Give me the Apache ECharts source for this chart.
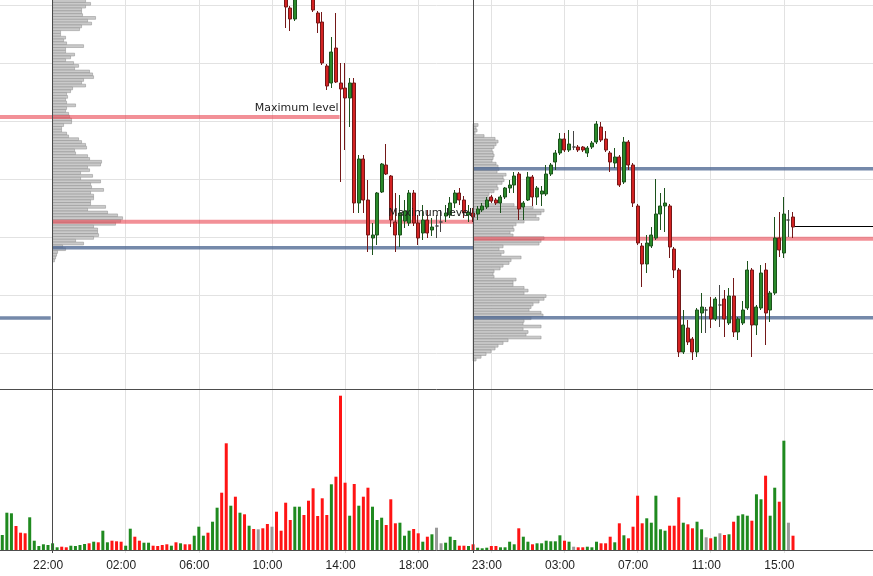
<!DOCTYPE html>
<html>
<head>
<meta charset="utf-8">
<script src="https://cdn.jsdelivr.net/npm/echarts@6/dist/echarts.min.js"></script>
<style>
html,body{margin:0;padding:0;background:#fff;}
#chart{width:873px;height:576px;}
</style>
</head>
<body>
<div id="chart"></div>
<script>
// ---------- time slots (15-minute bars) ----------
const sessionDefs = [
  { key: 'S0', startHour: 18, startMin: 15, bars: 11 },
  { key: 'S1', startHour: 22, startMin: 0, bars: 92 },
  { key: 'S2', startHour: 22, startMin: 0, bars: 88 }
];
const categories = [];
sessionDefs.forEach(function (s) {
  for (let i = 0; i < s.bars; i++) {
    const m = (s.startHour * 60 + s.startMin + i * 15) % 1440;
    categories.push(s.key + ' ' + String(Math.floor(m / 60)).padStart(2, '0') + ':' + String(m % 60).padStart(2, '0'));
  }
});
const tickLabels = ['S1 22:00', 'S1 02:00', 'S1 06:00', 'S1 10:00', 'S1 14:00', 'S1 18:00',
                    'S2 23:00', 'S2 03:00', 'S2 07:00', 'S2 11:00', 'S2 15:00'];
const sessionBreaks = ['S1 22:00', 'S2 22:00'];

// ---------- candles: [open, close, low, high] ----------
const candles = [
[436,441,434,443],[441,446,439,448],[446,452,444,455],[452,448,446,454],[448,445,443,450],
[445,442,440,447],[442,448,441,450],[448,450,447,452],[450,451,449,452],[451,452,450,453],
[452,453,451,454],[453,454,452,455],[454,455,453,456],[455,454,453,456],[454,453,452,455],
[453,454,452,455],[454,455,453,456],[455,456,454,457],[456,457,455,458],[457,455,454,458],
[455,457,454,458],[457,455,454,458],[455,460,454,461],[460,461,459,462],[461,459,458,462],
[459,457,456,460],[457,455,454,458],[455,456,454,457],[456,461,455,462],[461,458,457,462],
[458,456,455,459],[456,458,455,459],[458,459,457,460],[459,458,457,460],[458,457,456,459],
[457,456,455,458],[456,455,454,457],[455,456,454,457],[456,454,453,457],[454,456,453,457],
[456,454,453,457],[454,453,452,455],[453,456,452,457],[456,460,455,461],[460,462,458,463],
[462,458,457,463],[458,461,457,462],[461,462,456,463],[462,452,450,463],[452,436,432,454],
[436,444,434,446],[444,434,431,446],[434,440,432,442],[440,433,431,441],[433,437,431,439],
[437,433,431,438],[433,433,430,436],[433,430,428,435],[430,427,425,432],[427,427,424,430],
[427,422,420,429],[422,419,417,424],[419,404,383,421],[403,392,380,405],[392,420,390,428],
[420,432,418,436],[432,426,423,435],[426,418,415,429],[418,401,399,424],[398,388,378,400],
[389,348,346,399],[345,325,321,347],[328,359,323,374],[363,329,328,398],[328,322,229,348],
[323,313,261,348],[313,328,284,333],[328,208,198,333],[208,252,198,256],[252,211,198,256],
[211,176,159,231],[173,176,156,188],[176,218,166,219],[219,247,218,248],[246,237,236,267],
[235,191,184,236],[189,176,159,218],[176,198,164,216],[190,200,183,211],[188,218,185,221],
[218,188,185,221],[188,173,166,196],[178,191,171,206],[191,178,173,201],[181,184,175,193],
[185,185,173,196],[189,189,179,201],[195,198,189,206],[196,208,193,214],[208,218,203,221],
[218,211,206,223],[211,198,193,215],[196,199,189,206],[198,194,189,203],[197,202,191,205],
[201,205,199,208],[204,211,202,214],[214,210,208,216],[211,208,206,213],[208,214,198,216],
[214,223,212,224],[223,226,218,231],[226,235,218,239],[237,202,191,239],[204,208,191,210],
[211,234,210,239],[234,214,205,236],[214,223,206,225],[217,220,205,225],[217,237,215,246],
[237,246,235,248],[249,258,241,261],[258,272,256,278],[272,261,259,278],[261,267,259,281],
[264,264,261,280],[264,261,259,266],[264,261,259,265],[258,263,254,265],[264,268,262,270],
[269,287,267,290],[284,271,269,289],[272,261,259,280],[258,249,239,260],[248,254,243,263],
[254,226,224,256],[229,269,227,274],[269,246,241,271],[246,208,204,248],[205,168,166,207],
[165,147,124,168],[147,168,138,176],[165,176,163,184],[173,197,171,232],[197,205,181,218],
[205,208,179,223],[205,164,153,207],[162,141,133,164],[141,59,54,143],[59,86,57,101],
[83,69,66,91],[72,59,51,74],[59,101,54,103],[98,104,78,118],[101,101,78,104],
[104,92,83,114],[92,112,90,114],[106,106,84,126],[112,92,74,121],[88,115,86,123],
[115,79,74,133],[79,92,71,94],[88,101,86,110],[103,141,101,150],[141,86,54,143],
[86,104,76,106],[103,138,101,146],[141,98,66,148],[101,118,89,120],[118,173,116,194],
[173,161,154,199],[158,197,153,214],[191,191,174,201],[194,184,173,199]
];

// ---------- volume per bar ----------
const volumes = [
150,373,367,240,173,167,327,93,40,57,
50,67,27,33,27,43,40,50,60,67,
83,77,193,77,93,87,83,43,213,133,
93,73,73,43,40,50,57,43,77,67,
57,57,143,233,143,173,283,423,573,1067,
443,533,373,357,243,210,207,217,260,233,
383,193,473,300,433,433,350,493,617,340,
517,350,657,733,1543,673,343,660,443,533,
623,433,300,323,250,507,267,273,143,193,
210,167,83,133,157,223,67,73,133,100,
43,43,40,57,23,17,23,40,40,27,
27,83,57,217,133,83,57,67,67,93,
87,87,147,93,83,33,27,27,33,27,
83,67,67,133,77,267,147,117,233,543,
267,317,273,543,207,193,243,243,527,273,
257,217,283,207,127,117,133,167,150,157,
283,343,357,343,293,557,507,743,343,623,
483,1093,273,143
];

// ---------- volume profiles (rows from top price downward) ----------
const profile1Session = 'S1 22:00';
const profile1TopPrice = 410;
const profile1Step = 2.82;
const profile1Volume = [
33,38,33,29,29,30,43,35,39,29,27,8,8,13,11,14,31,13,13,22,
18,13,21,26,22,37,40,41,31,29,33,20,18,14,15,13,14,23,14,13,
16,17,19,19,11,9,9,14,16,26,29,33,34,22,23,35,37,49,48,35,
37,28,40,28,48,38,39,51,38,41,41,38,38,53,35,55,65,70,68,63,
41,45,45,46,41,23,31,10,13,5,4,3,2
];
const profile2Session = 'S2 22:00';
const profile2TopPrice = 286;
const profile2Step = 2.76;
const profile2Volume = [
5,3,4,2,11,22,25,23,21,19,20,21,20,19,23,25,26,24,33,30,
31,29,24,25,21,16,15,20,15,41,60,71,68,63,66,51,43,40,41,37,
40,71,68,66,30,26,31,28,48,38,36,30,27,21,20,21,43,40,40,51,
55,51,73,71,66,60,58,56,68,70,58,51,50,68,50,55,53,68,35,30,
25,22,18,13,8,3
];

// ---------- horizontal levels ----------
const levelFrom  = [-0.5, -0.5, 11, 11, 103, 103, 103, 173.4];
const levelTo    = [73.8, 10.6, 103, 103, 190.5, 190.5, 190.5, 190.5];
const levelPrice = [294, 93, 189.3, 163.3, 242.3, 172.3, 93.3, 184.5];
const levelKind  = ['max', 'val', 'max', 'val', 'val', 'max', 'val', 'last'];
const levelText  = ['Maximum level', '', 'Maximum level', '', '', '', '', ''];

// ---------- styles ----------
const GRID_COLOR = '#e2e2e2';
const PROFILE_PX = 1;
const levelStyles = {
  max:  { stroke: 'rgba(234,70,82,0.6)', lineWidth: 4 },
  val:  { stroke: 'rgba(78,104,146,0.78)', lineWidth: 3.5 },
  last: { stroke: '#000000', lineWidth: 1 }
};

function isTick(index, value) { return tickLabels.indexOf(value) >= 0; }
function dirColor(i) {
  const c = candles[i];
  if (c[1] > c[0]) return '#1f8a1f';
  if (c[1] < c[0]) return '#ff1414';
  return '#9a9a9a';
}
function profileRows(sessionKey, top, step, vols) {
  const idx = categories.indexOf(sessionKey);
  return vols.map(function (v, i) { return [idx, top - i * step, v, step]; });
}
const profileData = profileRows(profile1Session, profile1TopPrice, profile1Step, profile1Volume)
  .concat(profileRows(profile2Session, profile2TopPrice, profile2Step, profile2Volume));
const levelData = levelPrice.map(function (p, i) { return [0, p, levelFrom[i], levelTo[i], i]; });
const labelData = levelData.filter(function (d) { return levelText[d[4]] !== ''; });

function levelEnds(api) {
  const c0 = api.coord([0, api.value(1)]);
  const c1 = api.coord([1, api.value(1)]);
  const band = c1[0] - c0[0];
  return { x0: c0[0] + api.value(2) * band, x1: c0[0] + api.value(3) * band, y: c0[1] };
}

const dividerLine = {
  silent: true, symbol: 'none', animation: false,
  label: { show: false },
  lineStyle: { color: '#4a4a4a', width: 1, type: 'solid' },
  emphasis: { disabled: true },
  data: sessionBreaks.map(function (s) { return { xAxis: s }; })
};

const chart = echarts.init(document.getElementById('chart'), null, { renderer: 'canvas' });
chart.setOption({
  animation: false,
  backgroundColor: '#ffffff',
  grid: [
    { left: 0, right: 0, top: 0, height: 411 },
    { left: 0, right: 0, top: 389, height: 164 }
  ],
  xAxis: [
    { type: 'category', gridIndex: 0, data: categories, boundaryGap: true,
      axisLine: { show: false }, axisTick: { show: false }, axisLabel: { show: false },
      splitLine: { show: true, interval: isTick, alignWithLabel: true, lineStyle: { color: GRID_COLOR, width: 1 } } },
    { type: 'category', gridIndex: 1, data: categories, boundaryGap: true,
      axisLine: { show: true, lineStyle: { color: '#4d4d4d', width: 1 } },
      axisTick: { show: false },
      axisLabel: { show: true, interval: isTick, formatter: function (v) { return v.slice(3); },
        color: '#222', fontFamily: 'Liberation Sans', fontSize: 12, margin: 7, padding: [0, 9, 0, 0] },
      splitLine: { show: true, interval: isTick, alignWithLabel: true, lineStyle: { color: GRID_COLOR, width: 1 } } },
    { type: 'category', gridIndex: 1, data: categories, position: 'top', boundaryGap: true,
      axisLine: { show: true, lineStyle: { color: '#4d4d4d', width: 1 } },
      axisTick: { show: false }, axisLabel: { show: false }, splitLine: { show: false } }
  ],
  yAxis: [
    { type: 'value', gridIndex: 0, min: 0, max: 411, interval: 58,
      axisLine: { show: false }, axisTick: { show: false }, axisLabel: { show: false },
      splitLine: { show: true, showMinLine: false, showMaxLine: false, lineStyle: { color: GRID_COLOR, width: 1 } } },
    { type: 'value', gridIndex: 1, min: -30, max: 1610,
      axisLine: { show: false }, axisTick: { show: false }, axisLabel: { show: false },
      splitLine: { show: false } }
  ],
  series: [
    {
      name: 'profile', type: 'custom', xAxisIndex: 0, yAxisIndex: 0, z: 1,
      data: profileData, encode: { x: 0, y: 1 }, silent: true,
      renderItem: function (params, api) {
        const p = api.coord([api.value(0), api.value(1)]);
        const q = api.coord([api.value(0), api.value(1) + api.value(3)]);
        const h = Math.abs(p[1] - q[1]);
        return { type: 'rect',
          shape: { x: p[0], y: p[1] - h / 2, width: api.value(2) * PROFILE_PX, height: h },
          style: { fill: '#cacaca', stroke: '#8d8d8d', lineWidth: 0.5 } };
      }
    },
    {
      name: 'levels', type: 'custom', xAxisIndex: 0, yAxisIndex: 0, z: 2,
      data: levelData, encode: { x: 0, y: 1 }, silent: true,
      renderItem: function (params, api) {
        const e = levelEnds(api);
        const st = levelStyles[levelKind[api.value(4)]];
        return { type: 'line', shape: { x1: e.x0, y1: e.y, x2: e.x1, y2: e.y },
          style: { stroke: st.stroke, lineWidth: st.lineWidth } };
      }
    },
    {
      name: 'price', type: 'candlestick', xAxisIndex: 0, yAxisIndex: 0, z: 3,
      data: candles, barWidth: 3.5,
      itemStyle: { color: '#2a8a2a', color0: '#d42222', borderColor: '#1c521c', borderColor0: '#741818',
                   borderColorDoji: '#444', borderWidth: 1 },
      markLine: dividerLine
    },
    {
      name: 'levelLabels', type: 'custom', xAxisIndex: 0, yAxisIndex: 0, z: 6, zlevel: 1,
      data: labelData, encode: { x: 0, y: 1 }, silent: true,
      renderItem: function (params, api) {
        const e = levelEnds(api);
        return { type: 'text', x: e.x1 - 1, y: e.y - 3,
          style: { text: levelText[api.value(4)], fill: '#1e1e1e', fontSize: 11,
                   fontFamily: 'DejaVu Sans', align: 'right', verticalAlign: 'bottom' } };
      }
    },
    {
      name: 'volume', type: 'bar', xAxisIndex: 1, yAxisIndex: 1, barWidth: 3,
      data: volumes.map(function (v, i) { return { value: v, itemStyle: { color: dirColor(i) } }; }),
      markLine: dividerLine
    }
  ]
});
</script>
</body>
</html>
